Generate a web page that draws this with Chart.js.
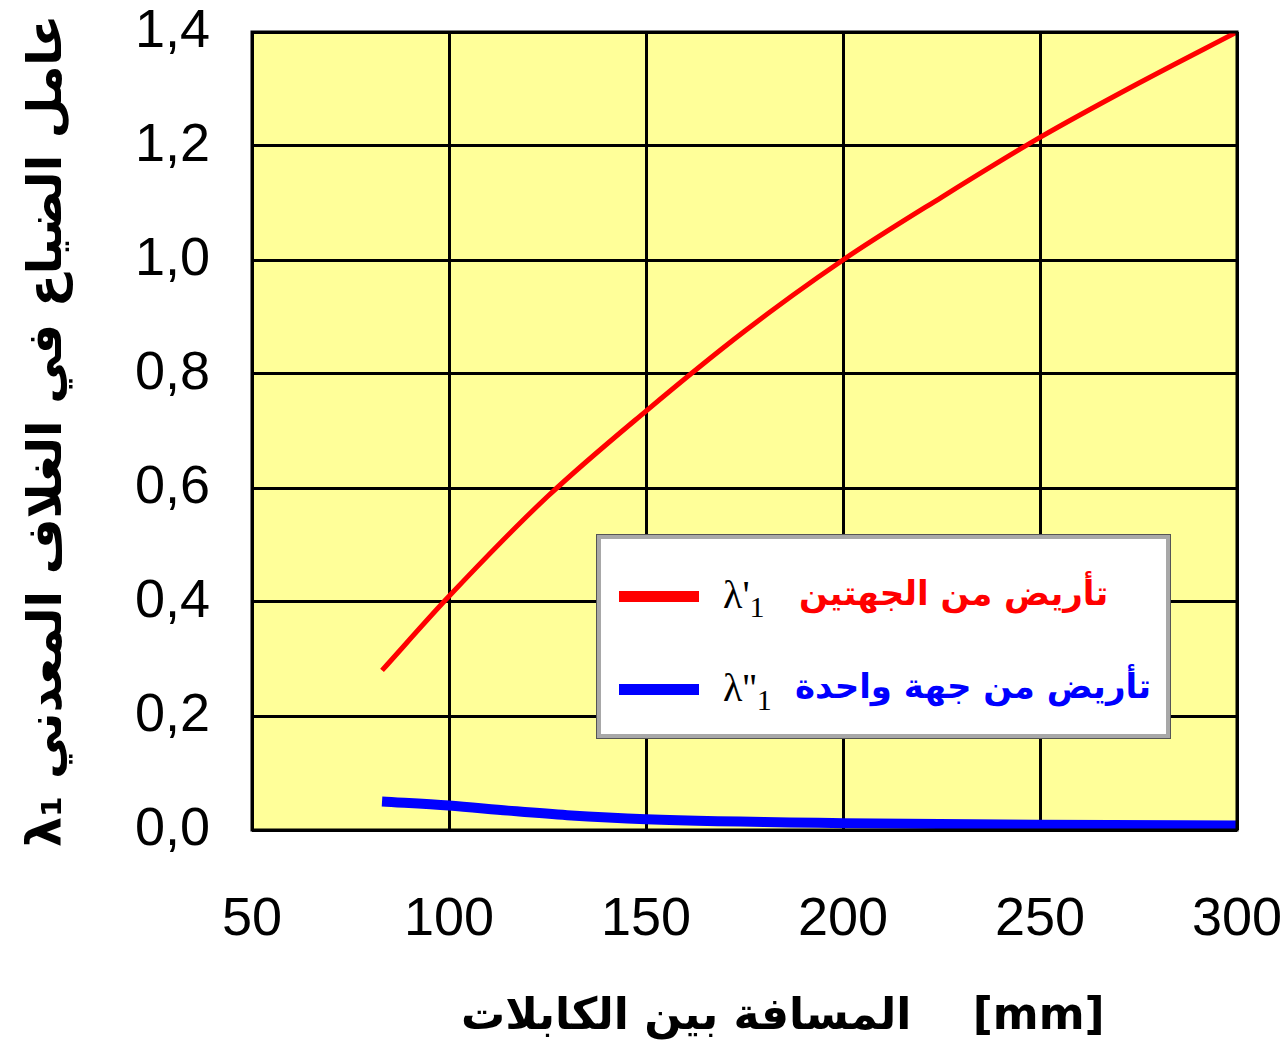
<!DOCTYPE html>
<html>
<head>
<meta charset="utf-8">
<script src="https://cdn.jsdelivr.net/npm/chart.js@4/dist/chart.umd.min.js"></script>
<style>
  body { margin: 0; background: #fff; }
  #wrap { position: relative; width: 1281px; height: 1059px; }
  #legend {
    position: absolute; left: 597px; top: 535px; width: 565px; height: 195px;
    background: #fff; border: 4px solid #a8a8a8; outline: 1px solid #555;
    font-family: "DejaVu Sans", sans-serif;
  }
  .row { position: absolute; left: 0; height: 50px; width: 100%; }
  .swatch { position: absolute; left: 18px; top: 20px; width: 80px; height: 11px; }
  .sym { position: absolute; left: 122px; top: 0; font: 40px "Liberation Serif", serif; color: #000; }
  .sym sub { font-size: 30px; }
  .lbl { position: absolute; top: 2px; font-weight: bold; font-size: 34px; direction: rtl; white-space: nowrap; }
</style>
</head>
<body>
<div id="wrap">
  <canvas id="chart" width="1281" height="1059"></canvas>
  <div id="legend">
    <div class="row" style="top:32px">
      <div class="swatch" style="background:#ff0000"></div>
      <div class="sym">λ'<sub>1</sub></div>
      <div class="lbl" style="left:198px;color:#ff0000">تأريض من الجهتين</div>
    </div>
    <div class="row" style="top:125px">
      <div class="swatch" style="background:#0000ff"></div>
      <div class="sym">λ''<sub>1</sub></div>
      <div class="lbl" style="left:194px;color:#0000ff">تأريض من جهة واحدة</div>
    </div>
  </div>
</div>
<script>
// data
const bothDistances = [83, 100, 125, 150, 175, 200, 225, 250, 275, 300];
const bothValues = [0.28, 0.41, 0.585, 0.735, 0.875, 1.0, 1.11, 1.215, 1.31, 1.40];
const oneDistances = [83, 100, 115, 130, 150, 200, 250, 300];
const oneValues = [0.05, 0.043, 0.034, 0.026, 0.019, 0.012, 0.009, 0.008];
const xTicks = [50, 100, 150, 200, 250, 300];
const yTicks = [0, 0.2, 0.4, 0.6, 0.8, 1.0, 1.2, 1.4];

const toPoints = (xs, ys) => xs.map((x, i) => ({x: x, y: ys[i]}));

// yellow plot background + frame
const plotBg = {
  id: 'plotBg',
  beforeDraw(chart) {
    const {ctx, chartArea: a} = chart;
    ctx.save();
    ctx.fillStyle = '#ffff99';
    ctx.fillRect(a.left, a.top, a.right - a.left, a.bottom - a.top);
    ctx.restore();
  },
  afterDatasetsDraw(chart) {
    const {ctx, chartArea: a} = chart;
    ctx.save();
    ctx.strokeStyle = '#000';
    ctx.lineWidth = 3;
    ctx.strokeRect(a.left, a.top, a.right - a.left, a.bottom - a.top);
    ctx.restore();
  }
};

const tickFont = {family: '"Liberation Sans", sans-serif', size: 54};

new Chart(document.getElementById('chart'), {
  type: 'line',
  data: {
    datasets: [
      {
        data: toPoints(bothDistances, bothValues),
        borderColor: '#ff0000', borderWidth: 5,
        pointRadius: 0, cubicInterpolationMode: 'monotone'
      },
      {
        data: toPoints(oneDistances, oneValues),
        borderColor: '#0000ff', borderWidth: 10,
        pointRadius: 0, cubicInterpolationMode: 'monotone'
      }
    ]
  },
  options: {
    responsive: false,
    animation: false,
    layout: {padding: {top: 32, right: 44}},
    plugins: {legend: {display: false}, tooltip: {enabled: false}},
    scales: {
      x: {
        type: 'linear', min: 50, max: 300,
        afterBuildTicks: s => { s.ticks = xTicks.map(v => ({value: v})); },
        afterFit: s => { s.height = 229; s.paddingLeft = 0; s.paddingRight = 0; },
        grid: {color: '#000', lineWidth: 3, drawTicks: false},
        border: {display: false},
        ticks: {color: '#000', font: tickFont, padding: 58, maxRotation: 0},
        title: {
          display: true, text: '     المسافة بين الكابلات    [mm]', color: '#000',
          font: {family: '"DejaVu Sans", sans-serif', size: 44, weight: 'bold'},
          padding: {top: 0, bottom: 15}
        }
      },
      y: {
        min: 0, max: 1.4,
        afterBuildTicks: s => { s.ticks = yTicks.map(v => ({value: v})); },
        afterFit: s => { s.width = 252; s.paddingTop = 0; s.paddingBottom = 0; },
        grid: {color: '#000', lineWidth: 3, drawTicks: false},
        border: {display: false},
        ticks: {
          color: '#000', font: tickFont, padding: 42,
          callback: v => v.toFixed(1).replace('.', ',')
        },
        title: {
          display: true, text: 'λ₁ عامل الضياع في الغلاف المعدني', color: '#000',
          font: {family: '"DejaVu Sans", sans-serif', size: 48, weight: 'bold'},
          padding: {top: 20, bottom: 0}
        }
      }
    }
  },
  plugins: [plotBg]
});
</script>
</body>
</html>
